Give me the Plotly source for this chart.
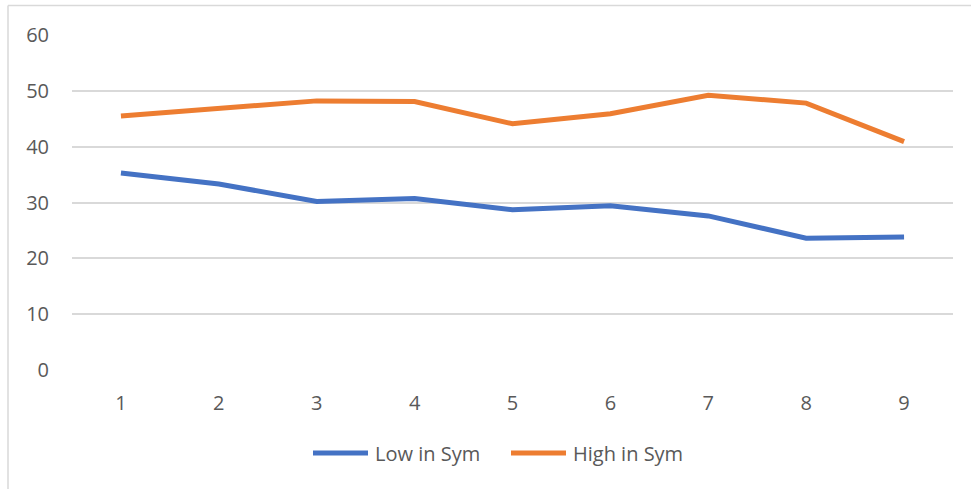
import plotly.graph_objects as go

# Data series
categories = [1, 2, 3, 4, 5, 6, 7, 8, 9]
low_in_sym = [35.3, 33.3, 30.2, 30.7, 28.7, 29.4, 27.6, 23.6, 23.8]
high_in_sym = [45.5, 46.9, 48.2, 48.1, 44.1, 45.9, 49.2, 47.8, 40.9]
y_ticks = [0, 10, 20, 30, 40, 50, 60]

series_names = ["Low in Sym", "High in Sym"]
series_colors = ["#4472C4", "#ED7D31"]

W, H = 971, 489
M_L, M_R, M_T, M_B = 72, 18, 35, 119
PW = W - M_L - M_R
PH = H - M_T - M_B
TEXT = "#595959"
GRID = "#D9D9D9"
FONT = "Open Sans"
FS = 20


def px_x(x):
    return (x - M_L) / PW


def px_y(y):
    return (H - M_B - y) / PH


fig = go.Figure()
for name, vals, col in zip(series_names, [low_in_sym, high_in_sym], series_colors):
    fig.add_trace(go.Scatter(
        x=categories, y=vals, mode="lines", name=name,
        line=dict(color=col, width=5),
        showlegend=False,
    ))

# Chart-area border (left and top edges visible)
shapes = [
    dict(type="line", xref="paper", yref="paper",
         x0=px_x(8), x1=px_x(8), y0=px_y(5.5), y1=px_y(H + 20),
         line=dict(color=GRID, width=1.5)),
    dict(type="line", xref="paper", yref="paper",
         x0=px_x(8), x1=px_x(W + 20), y0=px_y(5.5), y1=px_y(5.5),
         line=dict(color=GRID, width=1.5)),
]

# Legend drawn below the plot
annotations = []
legend_items = [(313, 368, 373), (511, 566, 571)]
legend_y = 453
for (lx0, lx1, tx), name, col in zip(legend_items, series_names, series_colors):
    shapes.append(dict(type="line", xref="paper", yref="paper",
                       x0=px_x(lx0), x1=px_x(lx1), y0=px_y(legend_y), y1=px_y(legend_y),
                       line=dict(color=col, width=5)))
    annotations.append(dict(xref="paper", yref="paper", x=px_x(tx), y=px_y(legend_y),
                            text=name, showarrow=False, xanchor="left", yanchor="middle",
                            font=dict(family=FONT, size=FS, color=TEXT)))

fig.update_layout(
    width=W, height=H,
    margin=dict(l=M_L, r=M_R, t=M_T, b=M_B, pad=0),
    paper_bgcolor="white", plot_bgcolor="white",
    font=dict(family=FONT, size=FS, color=TEXT),
    shapes=shapes, annotations=annotations,
    showlegend=False,
)
fig.update_xaxes(
    range=[0.5, 9.5], tickvals=categories, ticktext=[str(c) for c in categories],
    showgrid=False, zeroline=False, showline=False, ticks="",
    ticklabelstandoff=19, tickfont=dict(family=FONT, size=FS, color=TEXT),
)
fig.update_yaxes(
    range=[0, 60], tickvals=y_ticks, showgrid=True, gridcolor=GRID, gridwidth=2,
    zeroline=False, showline=False, ticks="",
    ticklabelstandoff=22, tickfont=dict(family=FONT, size=FS, color=TEXT),
)

fig.write_html("out.html")
